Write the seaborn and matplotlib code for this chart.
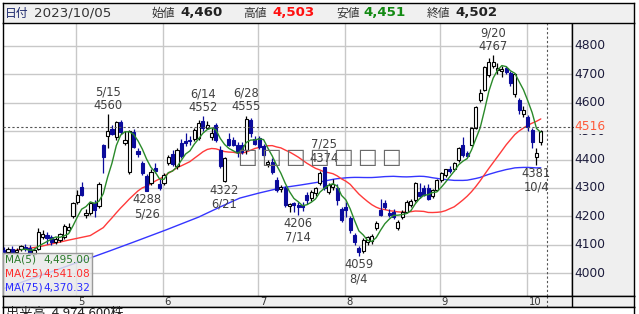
import numpy as np
import pandas as pd
import matplotlib
matplotlib.use("Agg")
import matplotlib.pyplot as plt
import seaborn as sns

sns.set_theme(style="white")
plt.rcParams["font.family"] = ["DejaVu Sans"]
JP = ["Noto Sans CJK JP", "DejaVu Sans"]

# ---------------- data ----------------
holidays = ["2023-05-03", "2023-05-04", "2023-05-05", "2023-07-17", "2023-08-11", "2023-09-18"]
dates = [d for d in pd.bdate_range("2023-04-06", "2023-10-05") if d.strftime("%Y-%m-%d") not in holidays]

opens = [4080, 4075, 4085, 4073, 4084, 4092, 4088, 4068, 4085, 4127,
         4135, 4127, 4110, 4116, 4127, 4152, 4201, 4250, 4303, 4203,
         4211, 4245, 4235, 4451, 4483, 4507, 4479, 4532, 4458, 4356,
         4497, 4430, 4388, 4342, 4317, 4370, 4315, 4318, 4388, 4420,
         4377, 4458, 4466, 4470, 4472, 4475, 4535, 4511, 4479, 4521,
         4433, 4324, 4472, 4470, 4451, 4450, 4433, 4539, 4472, 4476,
         4448, 4384, 4391, 4328, 4295, 4300, 4235, 4245, 4240, 4238,
         4275, 4265, 4282, 4317, 4373, 4285, 4303, 4300, 4225, 4232,
         4194, 4134, 4088, 4078, 4109, 4112, 4159, 4222, 4247, 4212,
         4215, 4159, 4197, 4215, 4240, 4257, 4285, 4300, 4300, 4272,
         4292, 4328, 4345, 4368, 4366, 4398, 4451, 4423, 4451, 4511,
         4610, 4645, 4698, 4730, 4715, 4712, 4722, 4705, 4631, 4610,
         4560, 4550, 4504, 4409, 4460]
highs = [4092, 4090, 4096, 4088, 4100, 4102, 4100, 4088, 4158, 4150,
         4145, 4134, 4126, 4142, 4172, 4178, 4252, 4292, 4320, 4226,
         4252, 4256, 4320, 4456, 4560, 4522, 4536, 4538, 4500, 4505,
         4506, 4442, 4396, 4350, 4366, 4386, 4332, 4352, 4416, 4432,
         4442, 4472, 4492, 4482, 4512, 4538, 4552, 4536, 4510, 4530,
         4446, 4410, 4492, 4480, 4462, 4460, 4555, 4546, 4482, 4482,
         4456, 4400, 4404, 4340, 4310, 4306, 4248, 4252, 4252, 4250,
         4286, 4292, 4302, 4360, 4374, 4316, 4330, 4312, 4232, 4252,
         4202, 4142, 4096, 4122, 4132, 4136, 4182, 4262, 4256, 4226,
         4226, 4186, 4222, 4256, 4262, 4322, 4317, 4310, 4312, 4296,
         4332, 4356, 4368, 4376, 4392, 4444, 4480, 4430, 4516, 4590,
         4650, 4730, 4758, 4767, 4740, 4730, 4730, 4712, 4706, 4616,
         4590, 4556, 4510, 4440, 4503]
lows = [4068, 4066, 4072, 4062, 4076, 4078, 4062, 4060, 4080, 4120,
        4104, 4100, 4104, 4110, 4120, 4146, 4195, 4244, 4270, 4194,
        4205, 4196, 4230, 4352, 4440, 4486, 4470, 4490, 4450, 4350,
        4440, 4410, 4345, 4288, 4310, 4354, 4292, 4310, 4380, 4378,
        4368, 4404, 4448, 4452, 4464, 4468, 4500, 4506, 4470, 4462,
        4370, 4322, 4446, 4446, 4409, 4418, 4420, 4480, 4450, 4438,
        4408, 4374, 4350, 4284, 4284, 4234, 4214, 4214, 4206, 4218,
        4244, 4255, 4270, 4310, 4294, 4278, 4294, 4240, 4180, 4198,
        4140, 4100, 4059, 4070, 4100, 4104, 4150, 4200, 4226, 4196,
        4190, 4150, 4190, 4210, 4234, 4250, 4265, 4270, 4256, 4266,
        4288, 4322, 4340, 4352, 4360, 4392, 4410, 4408, 4446, 4506,
        4604, 4640, 4690, 4722, 4700, 4690, 4700, 4660, 4620, 4560,
        4550, 4500, 4440, 4381, 4451]
closes = [4075, 4086, 4074, 4082, 4094, 4084, 4067, 4081, 4144, 4137,
          4125, 4109, 4120, 4137, 4165, 4162, 4247, 4275, 4276, 4210,
          4245, 4222, 4313, 4409, 4501, 4490, 4532, 4497, 4469, 4500,
          4444, 4420, 4352, 4290, 4356, 4360, 4298, 4345, 4409, 4385,
          4433, 4412, 4458, 4464, 4503, 4527, 4512, 4521, 4493, 4469,
          4377, 4405, 4451, 4452, 4426, 4428, 4543, 4493, 4455, 4444,
          4416, 4391, 4356, 4292, 4302, 4240, 4242, 4238, 4234, 4232,
          4257, 4285, 4298, 4352, 4300, 4310, 4313, 4257, 4187, 4222,
          4150, 4109, 4074, 4116, 4127, 4130, 4176, 4204, 4232, 4206,
          4197, 4180, 4215, 4250, 4255, 4317, 4272, 4275, 4262, 4292,
          4328, 4352, 4365, 4360, 4388, 4440, 4416, 4412, 4511, 4585,
          4634, 4726, 4744, 4745, 4722, 4718, 4708, 4670, 4701, 4574,
          4575, 4514, 4462, 4423, 4502]

# early parts of the long moving averages (before enough visible history)
ma25_early_idx = [0, 8, 15, 20, 23]
ma25_early_val = [4074, 4092, 4116, 4132, 4160]
ma75_early_idx = [0, 10.5, 20.5, 24.5, 30, 37.5, 45, 50, 54.5, 59, 64, 68.5, 73]
ma75_early_val = [3945, 4002, 4056, 4078, 4109, 4152, 4197, 4233, 4264, 4282, 4300, 4310, 4321]

ma_legend = [("MA(5)", "4,495.00"), ("MA(25)", "4,541.08"), ("MA(75)", "4,370.32")]
ma_colors = ["#2a8a2a", "#ff3a3a", "#3535ff"]
ma_text_colors = ["#2a7a2a", "#ff2a2a", "#2a2aff"]

marks_high = [("5/15", 4560), ("6/14", 4552), ("6/28", 4555), ("7/25", 4374), ("9/20", 4767)]
marks_low = [("5/26", 4288), ("6/21", 4322), ("7/14", 4206), ("8/4", 4059), ("10/4", 4381)]

yticks = [4000, 4100, 4200, 4300, 4400, 4500, 4600, 4700, 4800]
cursor_price = 4516
cursor_idx = 125.4

header = [("日付", "2023/10/05", "#333333", False),
          ("始値", "4,460", "#222222", True),
          ("高値", "4,503", "#ff1010", True),
          ("安値", "4,451", "#138a13", True),
          ("終値", "4,502", "#222222", True)]
volume_text = "出来高  4,974,600株"

# ---------------- figure ----------------
W, H = 639, 314
fig = plt.figure(figsize=(W / 100, H / 100), dpi=100)
fig.patch.set_facecolor("white")


def R(x0, y0, x1, y1):
    return [x0 / W, 1 - y1 / H, (x1 - x0) / W, (y1 - y0) / H]


n = len(closes)
idx = np.arange(n)
df = pd.DataFrame({"i": idx, "o": opens, "h": highs, "l": lows, "c": closes})
df["ma5"] = df["c"].rolling(5).mean()
df["ma25"] = df["c"].rolling(25).mean()
df["ma75"] = df["c"].rolling(75).mean()

ma25_x = list(ma25_early_idx) + list(df["i"][24:])
ma25_y = list(ma25_early_val) + list(df["ma25"][24:])
ma75_x = list(ma75_early_idx) + list(df["i"][74:])
ma75_y = list(ma75_early_val) + list(df["ma75"][74:])

XL, XR = -0.155, 131.2
YL, YH = 3919, 4881

ax = fig.add_axes(R(3, 23, 572, 296))
ax.set_facecolor("white")
for s in ["left", "right", "bottom"]:
    ax.spines[s].set_color("black")
    ax.spines[s].set_linewidth(1)
ax.spines["top"].set_visible(False)

grid_c = "#c8c8c8"
for yv in yticks:
    ax.axhline(yv, color=grid_c, lw=1, zorder=0)
month_starts = [k for k in range(1, n) if dates[k].month != dates[k - 1].month]
for m in month_starts:
    ax.axvline(m - 0.2, color=grid_c, lw=1, zorder=0)

# watermark (missing glyph boxes)
for k in range(7):
    fig.text((247 + 24 * k) / W, 1 - 157 / H, "□", fontsize=15, color="#6a6a6a",
             ha="center", va="center", zorder=1)

# long MA lines
sns.lineplot(x=ma75_x, y=ma75_y, ax=ax, color=ma_colors[2], lw=1.0, zorder=2, legend=False)
sns.lineplot(x=ma25_x, y=ma25_y, ax=ax, color=ma_colors[1], lw=1.0, zorder=2, legend=False)

# candles
up = df["c"] >= df["o"]
down_c = "#0b0b9c"
ax.vlines(df["i"][up], df["l"][up], df["h"][up], color="black", lw=0.9, zorder=3)
ax.vlines(df["i"][~up], df["l"][~up], df["h"][~up], color=down_c, lw=0.9, zorder=3)
body_lo = np.minimum(df["o"], df["c"])
body_h = np.maximum(np.abs(df["c"] - df["o"]), 2)
ax.bar(df["i"][up], body_h[up], bottom=body_lo[up], width=0.72, color="white",
       edgecolor="black", linewidth=0.8, zorder=4)
ax.bar(df["i"][~up], body_h[~up], bottom=body_lo[~up], width=0.72, color=down_c,
       edgecolor=down_c, linewidth=0.8, zorder=4)

sns.lineplot(x=df["i"], y=df["ma5"], ax=ax, color=ma_colors[0], lw=1.0, zorder=5, legend=False)
ax.set_xlim(XL, XR)
ax.set_ylim(YL, YH)
ax.set_xticks([])
ax.set_yticks([])
ax.set_xlabel("")
ax.set_ylabel("")

# cursor cross
ax.axhline(cursor_price, color="#555555", lw=0.8, ls=(0, (2, 2)), zorder=6)
ax.axvline(cursor_idx, color="#555555", lw=0.8, ls=(0, (2, 2)), zorder=6)

# high / low annotations
date_lbl = [f"{d.month}/{d.day}" for d in dates]
ann_c = "#404040"
for lbl, val in marks_high:
    k = date_lbl.index(lbl)
    ax.annotate(f"{lbl}\n{val}", xy=(k, val), xytext=(0, 1.5), textcoords="offset points",
                ha="center", va="bottom", fontsize=8.3, color=ann_c, linespacing=1.1, zorder=8)
for lbl, val in marks_low:
    k = date_lbl.index(lbl)
    ax.annotate(f"{val}\n{lbl}", xy=(k, val), xytext=(0, -1.5), textcoords="offset points",
                ha="center", va="top", fontsize=8.3, color=ann_c, linespacing=1.1, zorder=8)

# legend box
axl = fig.add_axes(R(3, 253, 92, 296))
axl.set_facecolor((0.91, 0.91, 0.91, 0.82))
axl.set_xticks([])
axl.set_yticks([])
for s in axl.spines.values():
    s.set_color("#9a9a9a")
    s.set_linewidth(1)
for k, (name, val) in enumerate(ma_legend):
    yy = 1 - (7 + 14 * k) / 43
    axl.text(0.025, yy, name, transform=axl.transAxes, ha="left", va="center",
             fontsize=7.6, color=ma_text_colors[k])
    axl.text(0.985, yy, val, transform=axl.transAxes, ha="right", va="center",
             fontsize=7.6, color=ma_text_colors[k])

# price axis panel
axy = fig.add_axes(R(572, 23, 634, 296))
axy.set_facecolor("#efefef")
axy.set_ylim(YL, YH)
axy.set_xlim(0, 1)
axy.set_xticks([])
axy.set_yticks([])
for s in axy.spines.values():
    s.set_color("black")
    s.set_linewidth(1)
axy.spines["top"].set_visible(False)
for yv in yticks:
    axy.text(0.04, yv, str(yv), ha="left", va="center", fontsize=8.8, color="#1c1c3c")
axy.axhline(cursor_price, xmin=0, xmax=0.05, color="#555555", lw=0.8, ls=(0, (2, 2)))
axy.text(0.04, cursor_price, str(cursor_price), ha="left", va="center", fontsize=8.8,
         color="#ff5a3a", bbox=dict(boxstyle="square,pad=0.05", fc="#efefef", ec="none"))

# date strip
axx = fig.add_axes(R(3, 296, 634, 307))
axx.set_facecolor("#efefef")
axx.set_xlim(XL, XL + (634 - 3) / (569 / (XR - XL)))
axx.set_ylim(0, 1)
axx.set_xticks([])
axx.set_yticks([])
for s in axx.spines.values():
    s.set_color("black")
    s.set_linewidth(1)
for m in month_starts:
    axx.text(m + 0.15, 0.45, str(dates[m].month), ha="left", va="center", fontsize=7.2, color="#333333")
axx.axvline(cursor_idx, color="#555555", lw=0.8, ls=(0, (2, 2)))
axx.axvline(XR, color="black", lw=1)

# volume row (cut off by the figure edge, as in the source)
axv = fig.add_axes(R(3, 307, 634, 330))
axv.set_facecolor("white")
axv.set_xticks([])
axv.set_yticks([])
for s in axv.spines.values():
    s.set_color("black")
    s.set_linewidth(1)
fig.text(6 / W, 1 - 306.5 / H, volume_text, ha="left", va="top", fontsize=9.5,
         color="#222222", family=JP)

# header
axh = fig.add_axes(R(3, 3, 634, 23))
axh.set_facecolor("#f0f0f0")
axh.set_xticks([])
axh.set_yticks([])
for s in axh.spines.values():
    s.set_color("black")
    s.set_linewidth(1)
label_x = [5, 152, 243, 336, 427]
value_x = [34, 180, 272, 363, 455]
for k, (lab, val, col, bold) in enumerate(header):
    fig.text(label_x[k] / W, 1 - 13 / H, lab, ha="left", va="center", fontsize=8.5,
             color="#1e2a6e" if k == 0 else "#333333", family=JP)
    fig.text(value_x[k] / W, 1 - 13 / H, val, ha="left", va="center", fontsize=9.6,
             color=col, fontweight="bold" if bold else "normal")

fig.savefig("out.png", dpi=100)
